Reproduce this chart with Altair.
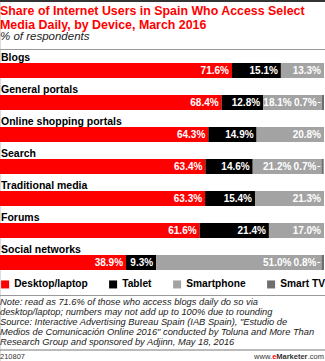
import altair as alt
import pandas as pd

categories = ["Blogs", "General portals", "Online shopping portals", "Search",
              "Traditional media", "Forums", "Social networks"]
devices = ["Desktop/laptop", "Tablet", "Smartphone", "Smart TV"]
desktop = [71.6, 68.4, 64.3, 63.4, 63.3, 61.6, 38.9]
tablet = [15.1, 12.8, 14.9, 14.6, 15.4, 21.4, 9.3]
smartphone = [13.3, 18.1, 20.8, 21.2, 21.3, 17.0, 51.0]
smart_tv = [0, 0.7, 0, 0.7, 0, 0, 0.8]
colors = ["#ff0000", "#000000", "#a3a3a3", "#6e6e6e"]

title_lines = ["Share of Internet Users in Spain Who Access Select",
               "Media Daily, by Device, March 2016"]
subtitle = "% of respondents"
note_lines = [
    "Note: read as 71.6% of those who access blogs daily do so via",
    "desktop/laptop; numbers may not add up to 100% due to rounding",
    "Source: Interactive Advertising Bureau Spain (IAB Spain), \"Estudio de",
    "Medios de Comunicación Online 2016\" conducted by Toluna and More Than",
    "Research Group and sponsored by Adjinn, May 18, 2016",
]
chart_id = "210807"

rows = []
for i, cat in enumerate(categories):
    vals = [desktop[i], tablet[i], smartphone[i], smart_tv[i]]
    has_tv = smart_tv[i] > 0
    start = 0.0
    for d, v in zip(devices, vals):
        if v > 0:
            rows.append({"category": cat, "device": d, "value": v,
                         "start": start, "end": start + v,
                         "label": f"{v:.1f}%", "has_tv": has_tv})
        start += v
df = pd.DataFrame(rows)

W, H = 325, 361
FONT = "Liberation Sans"

xs = alt.Scale(domain=[0, 100], range=[0, 324], nice=False, zero=True)
ys = alt.Scale(domain=categories, range=[54.5, 278.5], paddingInner=0, paddingOuter=0)

base = alt.Chart(df)

bars = base.mark_bar(size=15).encode(
    x=alt.X("start:Q", scale=xs, axis=None),
    x2="end:Q",
    y=alt.Y("category:N", scale=ys, axis=None, sort=categories),
    color=alt.Color("device:N", scale=alt.Scale(domain=devices, range=colors),
                    legend=alt.Legend(title=None, orient="none", legendX=0, legendY=279,
                                      direction="horizontal", columns=4, columnPadding=20,
                                      symbolType="square", symbolSize=64, symbolStrokeWidth=0,
                                      symbolOpacity=1, labelFont=FONT, labelFontSize=10.2,
                                      labelFontWeight="bold", labelColor="#000",
                                      labelOffset=4, padding=0)),
)

normal = df[(df.device != "Smart TV") & ~((df.device == "Smartphone") & df.has_tv)]
shifted = df[(df.device == "Smartphone") & df.has_tv]
tvlab = df[df.device == "Smart TV"]

def vlabels(data, dx, field):
    return alt.Chart(data).mark_text(align="right", baseline="middle", dx=dx, dy=0.5,
                                     font=FONT, fontSize=10, fontWeight="bold",
                                     color="white").encode(
        x=alt.X(f"{field}:Q", scale=xs),
        y=alt.Y("category:N", scale=ys, sort=categories),
        text="label:N")

lab1 = vlabels(normal, -3, "end")
lab2 = vlabels(shifted, -30, "end")
lab3 = vlabels(tvlab, -5, "start")

dash = alt.Chart(tvlab).mark_rule(color="white", strokeWidth=1, xOffset=-4, x2Offset=-1).encode(
    x=alt.X("start:Q", scale=xs), x2="start:Q",
    y=alt.Y("category:N", scale=ys, sort=categories))

cat_df = pd.DataFrame({"category": categories})
cat_labels = alt.Chart(cat_df).mark_text(align="left", baseline="alphabetic", dy=-10,
                                         font=FONT, fontSize=10.5, fontWeight="bold",
                                         color="#000").encode(
    x=alt.value(1), y=alt.Y("category:N", scale=ys, sort=categories), text="category:N")

dummy = pd.DataFrame({"a": [0]})

def txt(text, x, y, size, weight="normal", style="normal", color="#000", align="left"):
    return alt.Chart(dummy).mark_text(align=align, baseline="alphabetic", font=FONT,
                                      fontSize=size, fontWeight=weight, fontStyle=style,
                                      color=color).encode(
        x=alt.value(x), y=alt.value(y), text=alt.value(text))

def hline(y, color, width):
    return alt.Chart(dummy).mark_rule(color=color, strokeWidth=width).encode(
        x=alt.value(0), x2=alt.value(W), y=alt.value(y))

layers = [hline(1, "#333333", 2)]
for k, line in enumerate(title_lines):
    layers.append(txt(line, 0, 15 + 14 * k, 12.4, weight="bold", color="#ff0000"))
layers += [
    txt(subtitle, 0, 40, 11.5, style="italic", color="#222"),
    hline(49.5, "#999999", 1),
    bars, lab1, lab2, lab3, dash, cat_labels,
    hline(295.5, "#999999", 1),
]
for k, line in enumerate(note_lines):
    layers.append(txt(line, 0, 305 + 10 * k, 9.3, style="italic", color="#222"))
layers += [
    hline(350, "#777777", 1),
    txt(chart_id, 0, 359, 7.5, color="#333"),
    txt(".com", 324, 359, 7.5, color="#333", align="right"),
    txt("Marketer", 307.5, 359, 7.5, weight="bold", color="#333", align="right"),
    txt("e", 276.3, 359, 7.5, weight="bold", color="#ff0000", align="right"),
    txt("www.", 272, 359, 7.5, color="#333", align="right"),
]

chart = alt.layer(*layers).properties(
    width=W, height=H, autosize=alt.AutoSizeParams(type="none"), padding=0
).configure_view(stroke=None).configure(background="white")

chart.save("out.html", embed_options={"renderer": "svg", "actions": False})
